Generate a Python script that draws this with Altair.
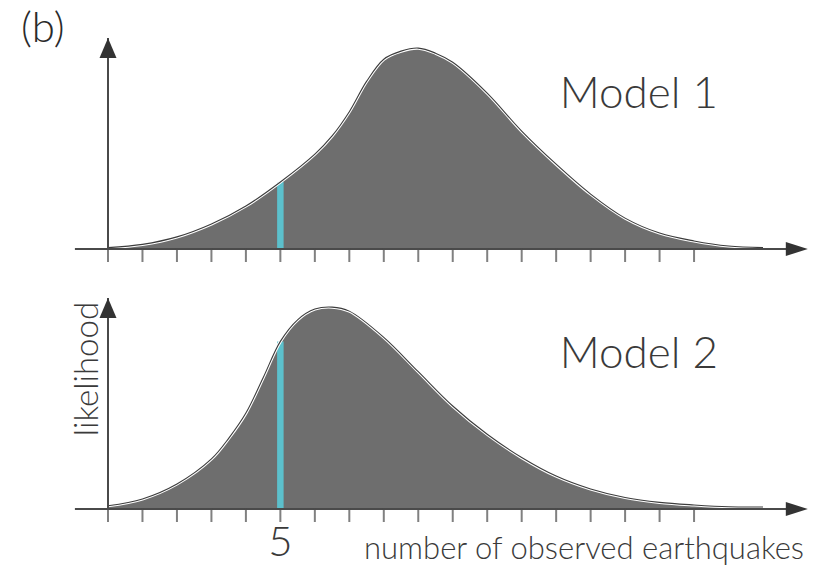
import altair as alt
import pandas as pd

# Likelihood curves (relative units, peak ~1) for the number of observed earthquakes
model1_counts = [0, 1, 2, 3, 4, 5, 6, 6.5, 7, 7.5, 8, 8.5, 9, 9.5, 10, 11, 12, 13, 14, 15, 16, 17, 18, 19]
model1_lik = [0.007, 0.023, 0.06, 0.124, 0.213, 0.332, 0.47, 0.56, 0.68, 0.83, 0.94, 0.98, 0.995, 0.97,
              0.925, 0.772, 0.584, 0.42, 0.272, 0.153, 0.079, 0.04, 0.015, 0.007]

model2_counts = [0, 1, 2, 3, 3.5, 4, 4.5, 5, 5.5, 6, 6.5, 7, 8, 9, 10, 11, 12, 13, 14, 15, 16, 17, 18, 19]
model2_lik = [0.016, 0.05, 0.124, 0.248, 0.35, 0.475, 0.65, 0.83, 0.937, 0.99, 1.0, 0.98, 0.85, 0.68,
              0.51, 0.37, 0.255, 0.163, 0.099, 0.057, 0.033, 0.02, 0.011, 0.01]

observed = 5
tick_values = list(range(18))
axis_x_start, axis_x_end = -0.96, 20.3
model_names = ["Model 1", "Model 2"]
x_title = "number of observed earthquakes"
y_title = "likelihood"
panel_tag = "(b)"

FILL = "#6e6e6e"
EDGE = "#3c3c3c"
AXIS = "#4a4a4a"
CYAN = "#5cc0cc"
TEXT = "#3a3a3a"
FONT = "Lato"
WEIGHT = 300
YMAX = 1.045
CURVE = "catmull-rom"

xs = alt.Scale(domain=[0, 19], range=[108, 763], nice=False, zero=False)
panel_y = [
    alt.Scale(domain=[0, YMAX], range=[249, 38], nice=False, zero=False),
    alt.Scale(domain=[0, YMAX], range=[509, 298], nice=False, zero=False),
]

UP_ARROW = "M0,0L0.85,2L-0.85,2Z"
RIGHT_ARROW = "M0,0L-2.2,-0.7L-2.2,0.7Z"


def panel(counts, lik, ys, name, show_labels):
    df = pd.DataFrame({"n": counts, "lik": lik})
    X = alt.X("n:Q", scale=xs, axis=None)
    Y = alt.Y("lik:Q", scale=ys, axis=None)
    base = alt.Chart(df)

    area = base.mark_area(color=FILL, interpolate=CURVE).encode(x=X, y=Y)
    glow = base.mark_line(color="white", strokeWidth=3.2, interpolate=CURVE).encode(x=X, y=Y)
    edge = base.mark_line(color=EDGE, strokeWidth=1.1, interpolate=CURVE).encode(x=X, y=Y)

    obs_df = pd.DataFrame({"n": [observed], "lo": [0.0], "lik": [lik[counts.index(observed)]]})
    bar = alt.Chart(obs_df).mark_rule(color=CYAN, strokeWidth=6.5).encode(
        x=X, y=alt.Y("lo:Q", scale=ys, axis=None), y2="lik:Q"
    )

    yaxis_df = pd.DataFrame({"n": [0], "lo": [0.0], "hi": [YMAX]})
    yaxis = alt.Chart(yaxis_df).mark_rule(color=AXIS, strokeWidth=2).encode(
        x=X, y=alt.Y("lo:Q", scale=ys, axis=None), y2="hi:Q"
    )
    xaxis_df = pd.DataFrame({"n": [axis_x_start], "n2": [axis_x_end - 0.3], "lik": [0.0]})
    xaxis = alt.Chart(xaxis_df).mark_rule(color=AXIS, strokeWidth=2).encode(x=X, x2="n2:Q", y=Y)

    ticks_df = pd.DataFrame({"n": tick_values, "lik": [0.0] * len(tick_values)})
    ticks = alt.Chart(ticks_df).mark_tick(
        orient="vertical", color=AXIS, size=14, thickness=2, yOffset=6
    ).encode(x=X, y=Y)

    arrows_df = pd.DataFrame({
        "n": [0, axis_x_end], "lik": [YMAX, 0.0], "shape": [UP_ARROW, RIGHT_ARROW]
    })
    arrows = alt.Chart(arrows_df).mark_point(
        filled=True, color="#333333", size=400, opacity=1, strokeWidth=0
    ).encode(x=X, y=Y, shape=alt.Shape("shape:N", scale=None))

    name_df = pd.DataFrame({"n": [15.4], "lik": [0.70], "label": [name]})
    name_text = alt.Chart(name_df).mark_text(
        font=FONT, fontSize=44, fontWeight=WEIGHT, color=TEXT, align="center", baseline="alphabetic"
    ).encode(x=X, y=Y, text="label:N")

    layers = [area, bar, glow, edge, yaxis, xaxis, ticks, arrows, name_text]

    if show_labels:
        five_df = pd.DataFrame({"n": [observed], "lik": [0.0], "label": [str(observed)]})
        five = alt.Chart(five_df).mark_text(
            font=FONT, fontSize=42, fontWeight=WEIGHT, color=TEXT, align="center",
            baseline="alphabetic", dy=47
        ).encode(x=X, y=Y, text="label:N")
        xt_df = pd.DataFrame({"n": [20.19], "lik": [0.0], "label": [x_title]})
        xt = alt.Chart(xt_df).mark_text(
            font=FONT, fontSize=31, fontWeight=WEIGHT, color=TEXT, align="right",
            baseline="alphabetic", dy=50
        ).encode(x=X, y=Y, text="label:N")
        yt_df = pd.DataFrame({"n": [-0.29], "lik": [0.693], "label": [y_title]})
        yt = alt.Chart(yt_df).mark_text(
            font=FONT, fontSize=33, fontWeight=WEIGHT, color=TEXT, align="center",
            baseline="alphabetic", angle=270
        ).encode(x=X, y=Y, text="label:N")
        layers += [five, xt, yt]

    return layers


tag_df = pd.DataFrame({"label": [panel_tag]})
tag = alt.Chart(tag_df).mark_text(
    font=FONT, fontSize=42, fontWeight=WEIGHT, color="#2a2a2a", align="left", baseline="alphabetic"
).encode(x=alt.value(21), y=alt.value(42), text="label:N")

layers = (
    panel(model1_counts, model1_lik, panel_y[0], model_names[0], False)
    + panel(model2_counts, model2_lik, panel_y[1], model_names[1], True)
    + [tag]
)

chart = (
    alt.layer(*layers)
    .resolve_scale(y="independent", shape="independent")
    .properties(
        width=829,
        height=568,
        padding=0,
        autosize=alt.AutoSizeParams(type="none"),
        background="white",
    )
    .configure_view(stroke=None)
)

chart.save("out.html", embed_options={"renderer": "svg", "actions": False})
